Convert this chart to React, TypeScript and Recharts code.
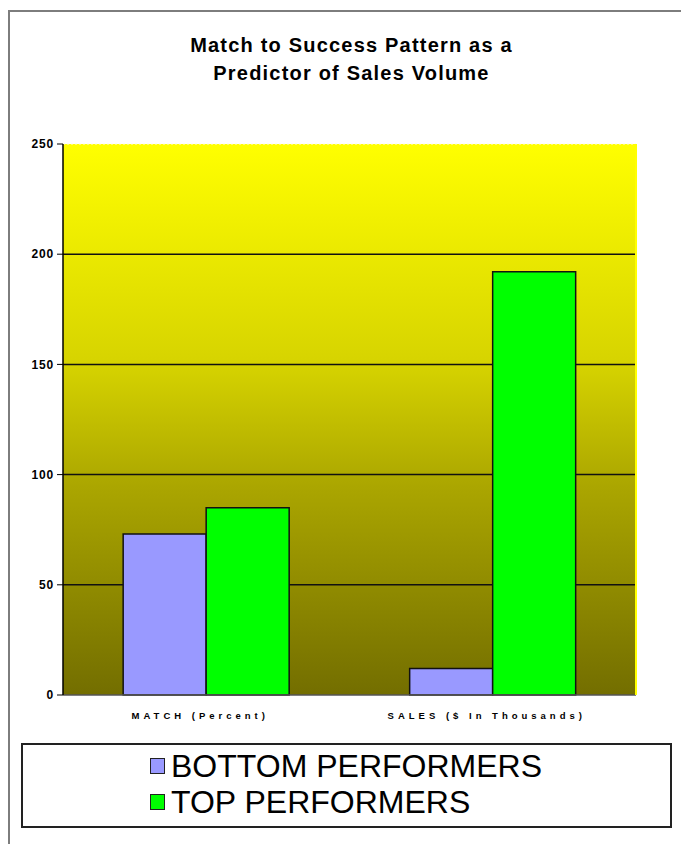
import React from "react"
import { BarChart, Bar, XAxis, YAxis, CartesianGrid, Legend, ReferenceLine } from "recharts"

const categories = ["MATCH (Percent)", "SALES ($ In Thousands)"]
const bottomPerformers = [73, 12]
const topPerformers = [85, 192]
const yTicks = [0, 50, 100, 150, 200, 250]
const gridValues = [50, 100, 150, 200]
const edgeTicks = [0, 1, 2]

const data = categories.map((name, i) => ({
  name,
  bottom: bottomPerformers[i],
  top: topPerformers[i],
}))

const FONT = "Arial, 'Liberation Sans', sans-serif"

const CategoryTick = ({ x, y, payload }: any) => (
  <text
    x={x - 6}
    y={y}
    dy={8}
    textAnchor="middle"
    fontFamily={FONT}
    fontSize={9.5}
    fontWeight="bold"
    letterSpacing={4}
    fill="#000"
  >
    {payload.value}
  </text>
)

const LegendBox = ({ payload }: any) => (
  <div
    style={{
      boxSizing: "border-box",
      width: 651,
      height: 85,
      border: "2px solid #222",
      background: "#fff",
      paddingTop: 3,
      paddingLeft: 127,
    }}
  >
    {(payload || []).map((entry: any, i: number) => (
      <div key={i} style={{ display: "flex", alignItems: "center", height: 36 }}>
        <span
          style={{
            display: "inline-block",
            width: 13,
            height: 14,
            background: entry.color,
            border: "1.5px solid #222",
            marginRight: 6,
          }}
        />
        <span style={{ fontFamily: FONT, fontSize: 32, color: "#000", lineHeight: "36px" }}>
          {entry.value}
        </span>
      </div>
    ))}
  </div>
)

export default function App() {
  return (
    <div style={{ position: "absolute", left: 0, top: 0, width: 681, height: 844, background: "#fff", overflow: "hidden" }}>
      <div
        style={{
          position: "absolute",
          left: 8,
          top: 10,
          width: 720,
          height: 900,
          borderLeft: "2px solid #7d7d7d",
          borderTop: "2px solid #7d7d7d",
        }}
      />
      <div
        style={{
          position: "absolute",
          left: 11,
          top: 31,
          width: 681,
          textAlign: "center",
          fontFamily: FONT,
          fontWeight: "bold",
          fontSize: 20,
          letterSpacing: 1.2,
          lineHeight: "28px",
          color: "#000",
        }}
      >
        Match to Success Pattern as a
        <br />
        Predictor of Sales Volume
      </div>
      <div style={{ position: "absolute", left: 0, top: 0 }}>
        <BarChart
          width={681}
          height={844}
          data={data}
          margin={{ top: 144, right: 44, left: 0, bottom: 16 }}
          barCategoryGap="21%"
          barGap={0}
        >
          <defs>
            <linearGradient id="plotBg" x1="0" y1="0" x2="0" y2="1">
              <stop offset="0%" stopColor="#ffff00" />
              <stop offset="40%" stopColor="#d6d300" />
              <stop offset="62%" stopColor="#aba600" />
              <stop offset="100%" stopColor="#736e00" />
            </linearGradient>
          </defs>
          <CartesianGrid
            xAxisId="axis"
            yAxisId="left"
            vertical={false}
            horizontalValues={gridValues}
            stroke="#111"
            strokeWidth={1.5}
            fill="url(#plotBg)"
            fillOpacity={1}
          />
          <XAxis
            xAxisId="axis"
            type="number"
            domain={[0, 2]}
            ticks={edgeTicks}
            tick={false}
            tickSize={5}
            tickLine={{ stroke: "#000" }}
            axisLine={{ stroke: "#555", strokeWidth: 1.5 }}
            height={8}
          />
          <XAxis
            xAxisId="labels"
            dataKey="name"
            axisLine={false}
            tickLine={false}
            tick={<CategoryTick />}
            height={40}
            interval={0}
          />
          <YAxis
            yAxisId="left"
            domain={[0, 250]}
            ticks={yTicks}
            width={63}
            tickSize={6}
            tickMargin={3}
            axisLine={{ stroke: "#000", strokeWidth: 1.5 }}
            tickLine={{ stroke: "#000" }}
            tick={{ fontFamily: FONT, fontSize: 12, fontWeight: "bold", fill: "#000", letterSpacing: 0.8 }}
          />
          <YAxis
            yAxisId="right"
            orientation="right"
            domain={[0, 250]}
            width={1}
            tick={false}
            tickLine={false}
            axisLine={{ stroke: "#ffff00", strokeWidth: 2 }}
          />
          <ReferenceLine xAxisId="labels" yAxisId="left" y={250} stroke="#fffbe0" strokeDasharray="2 2" />
          <Bar
            xAxisId="labels"
            yAxisId="left"
            dataKey="bottom"
            name="BOTTOM PERFORMERS"
            fill="#9999ff"
            stroke="#111"
            strokeWidth={1.5}
            isAnimationActive={false}
          />
          <Bar
            xAxisId="labels"
            yAxisId="left"
            dataKey="top"
            name="TOP PERFORMERS"
            fill="#00ff00"
            stroke="#111"
            strokeWidth={1.5}
            isAnimationActive={false}
          />
          <Legend
            content={<LegendBox />}
            wrapperStyle={{ position: "absolute", left: 21, top: 743, width: 651, height: 85, bottom: "auto" }}
          />
        </BarChart>
      </div>
    </div>
  )
}
